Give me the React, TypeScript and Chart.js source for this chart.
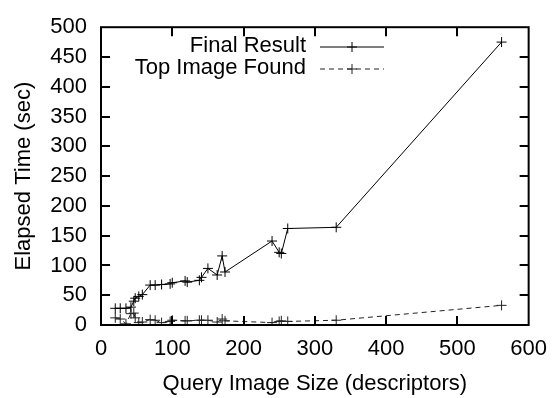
import React, { useEffect, useRef } from 'react';
import { Chart, registerables } from 'chart.js';

Chart.register(...registerables);

// ---- data ----
const querySizes = [20, 27, 35, 42, 46, 48, 53, 58, 69, 76, 85, 97, 100, 118, 121, 138, 141, 150, 163, 170, 174, 240, 250, 253, 262, 330, 562];
const finalResult = [28, 28, 28, 30, 40, 45, 48, 51, 67, 67, 68, 69, 71, 74, 72, 75, 80, 95, 84, 116, 89, 141, 122, 120, 162, 164, 475];
const topImageFound = [12, 10, 2, 19, 20, 12, 4, 5, 9, 8, 4, 6, 8, 7, 7, 8, 8, 8, 5, 10, 7, 4, 6, 7, 6, 8, 33];
const seriesLabels = ['Final Result', 'Top Image Found'];
const xTicks = [0, 100, 200, 300, 400, 500, 600];
const yTicks = [0, 50, 100, 150, 200, 250, 300, 350, 400, 450, 500];
const xTitle = 'Query Image Size (descriptors)';
const yTitle = 'Elapsed Time (sec)';

const FONT = "'Liberation Sans', Arial, Helvetica, sans-serif";
const FS = 22;

const borderPlugin = {
  id: 'gnuBorder',
  afterDraw(chart: any) {
    const { ctx, chartArea: a, scales } = chart;
    ctx.save();
    ctx.strokeStyle = '#000';
    ctx.lineWidth = 2;
    ctx.setLineDash([]);
    ctx.strokeRect(a.left, a.top, a.right - a.left, a.bottom - a.top);
    const L = 9;
    ctx.beginPath();
    scales.x.ticks.forEach((t: any) => {
      const px = Math.round(scales.x.getPixelForValue(t.value));
      if (px <= a.left + 1 || px >= a.right - 1) return;
      ctx.moveTo(px, a.bottom); ctx.lineTo(px, a.bottom - L);
      ctx.moveTo(px, a.top); ctx.lineTo(px, a.top + L);
    });
    scales.y.ticks.forEach((t: any) => {
      const py = Math.round(scales.y.getPixelForValue(t.value));
      if (py <= a.top + 1 || py >= a.bottom - 1) return;
      ctx.moveTo(a.left, py); ctx.lineTo(a.left + L, py);
      ctx.moveTo(a.right, py); ctx.lineTo(a.right - L, py);
    });
    ctx.stroke();

    // legend (gnuplot style: text right-aligned, then sample)
    const rows = [46, 68];
    chart.data.datasets.forEach((ds: any, i: number) => {
      const y = rows[i];
      ctx.fillStyle = '#000';
      ctx.font = `${FS}px ${FONT}`;
      ctx.textAlign = 'right';
      ctx.textBaseline = 'middle';
      ctx.fillText(ds.label, 306, y);
      ctx.strokeStyle = ds.borderColor;
      ctx.lineWidth = 1;
      ctx.setLineDash(ds.borderDash || []);
      ctx.beginPath();
      ctx.moveTo(320, y + 1); ctx.lineTo(384, y + 1);
      ctx.stroke();
      ctx.setLineDash([]);
      ctx.beginPath();
      ctx.moveTo(352 - 5, y + 1); ctx.lineTo(352 + 5, y + 1);
      ctx.moveTo(352, y + 1 - 5); ctx.lineTo(352, y + 1 + 5);
      ctx.stroke();
    });
    ctx.restore();
  },
};

export default function App() {
  const ref = useRef<HTMLCanvasElement>(null);
  useEffect(() => {
    if (!ref.current) return;
    const chart = new Chart(ref.current, {
      type: 'line',
      data: {
        datasets: [
          {
            label: seriesLabels[0],
            data: querySizes.map((x, i) => ({ x, y: finalResult[i] })),
            borderColor: '#000',
            borderWidth: 1,
            pointStyle: 'cross',
            pointRadius: 5,
            pointBorderWidth: 1,
            pointBorderColor: '#000',
            tension: 0,
          },
          {
            label: seriesLabels[1],
            data: querySizes.map((x, i) => ({ x, y: topImageFound[i] })),
            borderColor: '#222',
            borderWidth: 1,
            borderDash: [5, 4],
            pointStyle: 'cross',
            pointRadius: 5,
            pointBorderWidth: 1,
            pointBorderColor: '#222',
            tension: 0,
          },
        ],
      } as any,
      options: {
        responsive: false,
        animation: false,
        layout: { padding: { left: 0, right: 19, top: 16, bottom: 0 } },
        plugins: { legend: { display: false }, tooltip: { enabled: false } },
        scales: {
          x: {
            type: 'linear',
            min: 0,
            max: 600,
            afterBuildTicks: (s: any) => { s.ticks = xTicks.map((v) => ({ value: v })); },
            afterFit: (s: any) => { s.height = 73; },
            grid: { display: false, drawTicks: false },
            border: { display: false },
            ticks: { color: '#000', font: { family: FONT, size: FS }, padding: 11, maxRotation: 0, autoSkip: false },
            title: { display: true, text: xTitle, color: '#000', font: { family: FONT, size: FS }, padding: { top: 0, bottom: 1 } },
          },
          y: {
            type: 'linear',
            min: 0,
            max: 500,
            afterBuildTicks: (s: any) => { s.ticks = yTicks.map((v) => ({ value: v })); },
            afterFit: (s: any) => { s.width = 101; },
            grid: { display: false, drawTicks: false },
            border: { display: false },
            ticks: { color: '#000', font: { family: FONT, size: FS }, padding: 14, autoSkip: false },
            title: { display: true, text: yTitle, color: '#000', font: { family: FONT, size: FS }, padding: { top: 11, bottom: 0 } },
          },
        },
      } as any,
      plugins: [borderPlugin],
    });
    return () => chart.destroy();
  }, []);
  return (
    <div style={{ position: 'fixed', left: 0, top: 0, width: 558, height: 398, background: '#fff' }}>
      <canvas ref={ref} width={558} height={398} style={{ width: 558, height: 398, display: 'block' }} />
    </div>
  );
}
